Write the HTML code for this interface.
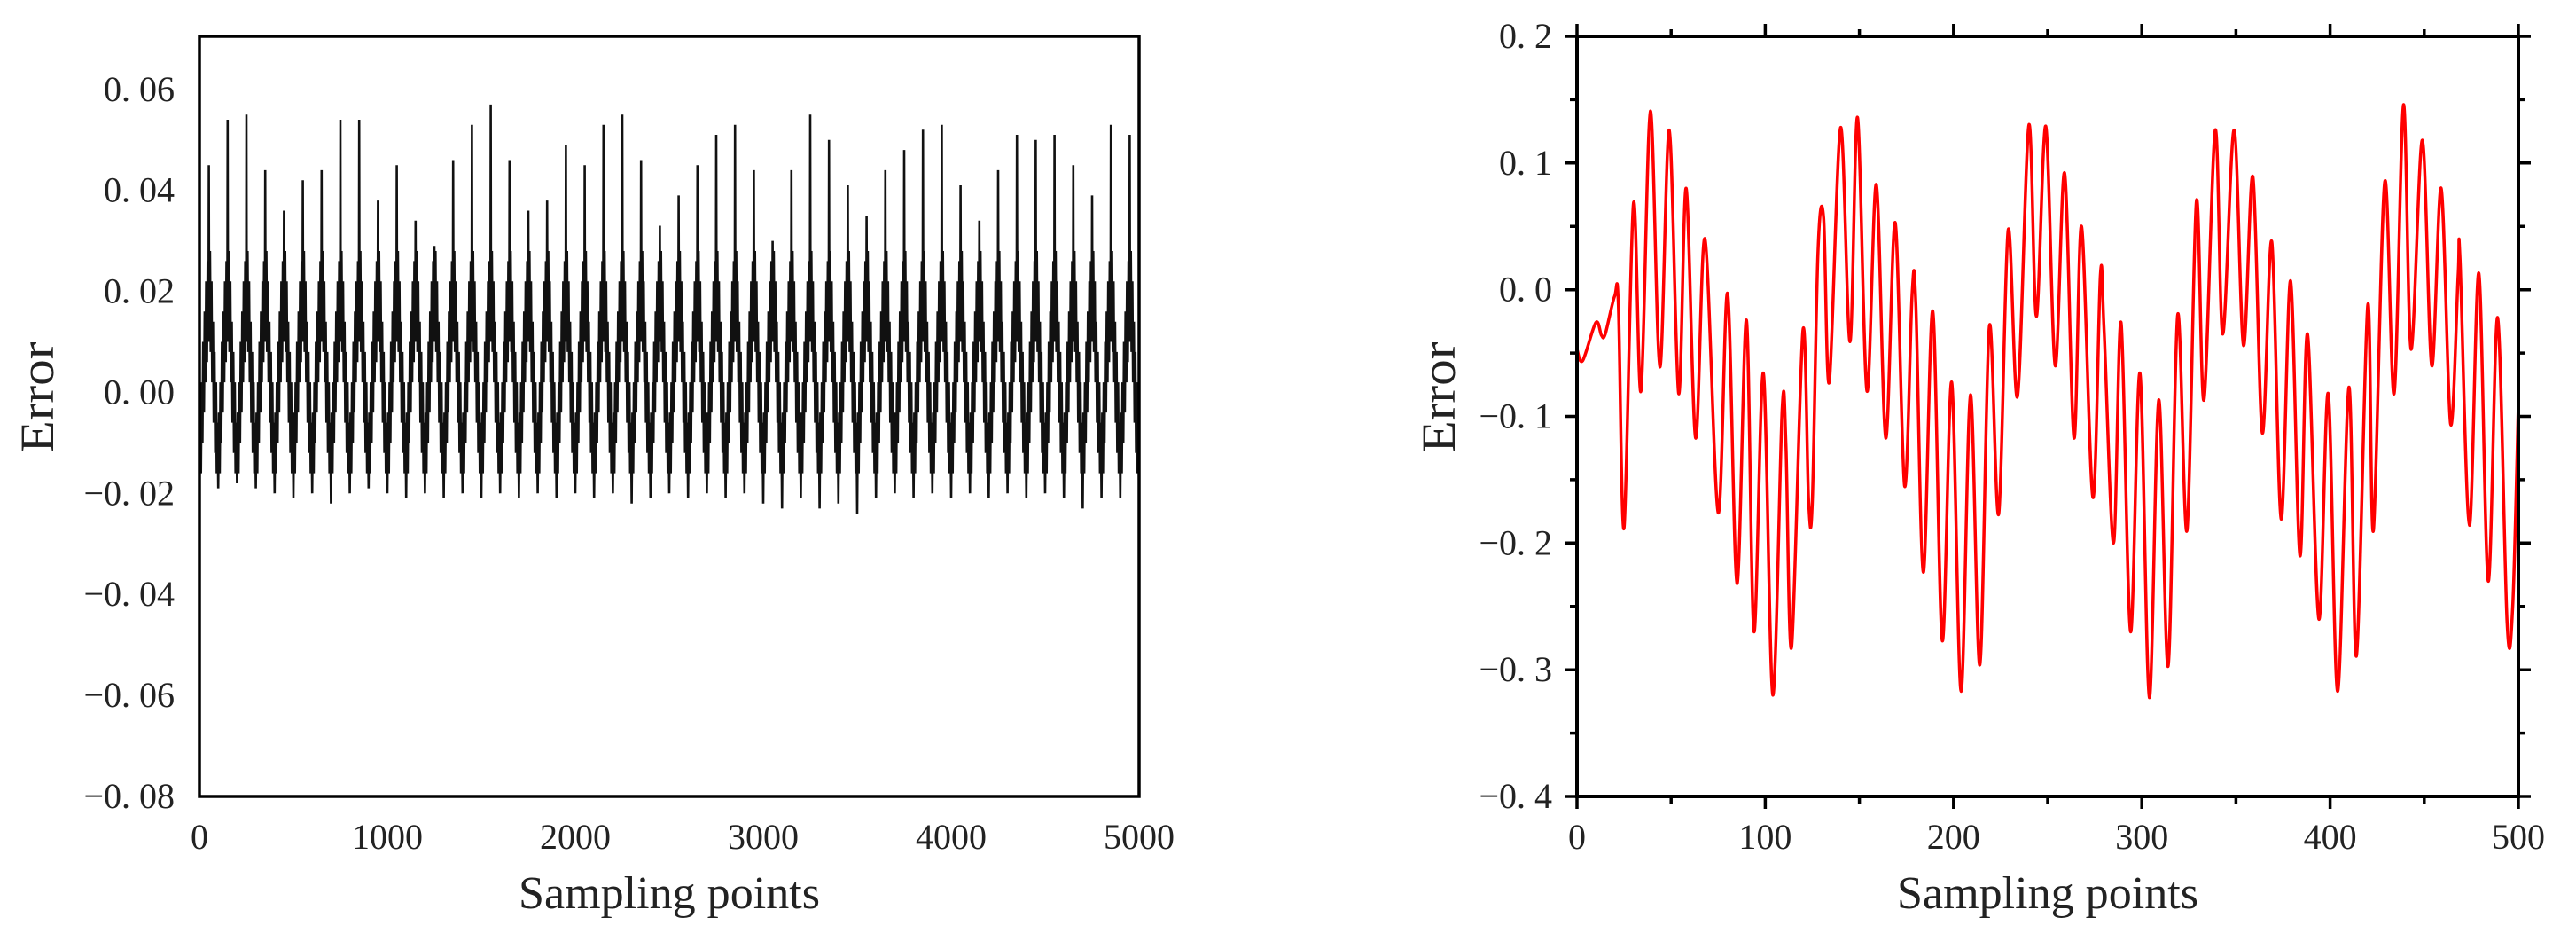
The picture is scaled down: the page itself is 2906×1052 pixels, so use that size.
<!DOCTYPE html>
<html><head><meta charset="utf-8">
<style>
html,body{margin:0;padding:0;background:#fff;}
svg{display:block;}
text{font-family:"Liberation Serif","Noto Serif CJK SC",serif;fill:#222;}
</style></head>
<body>
<svg id="fig" width="2906" height="1052" viewBox="0 0 2906 1052" xmlns="http://www.w3.org/2000/svg">
<g id="left"></g>
<g id="right"></g>
</svg>
<script>
// ---------- Left chart data (per-cycle extremes, 50 cycles of 100 samples) ----------
const leftPeaks = [0.045,0.054,0.055,0.044,0.036,0.042,0.044,0.054,0.054,0.038,0.045,0.034,0.029,0.046,0.053,0.057,0.046,0.036,0.038,0.049,0.045,0.053,0.055,0.046,0.033,0.039,0.045,0.051,0.053,0.044,0.030,0.044,0.055,0.050,0.041,0.035,0.044,0.048,0.052,0.053,0.041,0.034,0.044,0.051,0.050,0.051,0.045,0.039,0.053,0.051];
const leftMins = [-0.021,-0.019,-0.018,-0.019,-0.020,-0.021,-0.020,-0.022,-0.020,-0.019,-0.020,-0.021,-0.020,-0.021,-0.020,-0.021,-0.020,-0.021,-0.020,-0.021,-0.020,-0.021,-0.020,-0.022,-0.021,-0.020,-0.021,-0.020,-0.021,-0.020,-0.022,-0.023,-0.021,-0.023,-0.022,-0.024,-0.021,-0.020,-0.021,-0.020,-0.021,-0.020,-0.021,-0.020,-0.021,-0.020,-0.021,-0.023,-0.021,-0.021];
const cycleOffsets = [4,8,12,16,20,24,28,32,36,40,44,48,50,52,56,60,64,68,72,76,80,84,88,92,96];
const cycleValues = [-0.004,-0.016,0.002,-0.010,0.010,-0.004,0.016,0.002,0.022,0.006,0.026,0.010,null,0.012,0.028,0.008,0.022,0.002,0.014,-0.006,0.008,-0.012,0.002,-0.016,-0.006];
const leftXTicks = [0,1000,2000,3000,4000,5000];
const leftYTicks = [-0.08,-0.06,-0.04,-0.02,0.00,0.02,0.04,0.06];

// ---------- Right chart data (extrema) ----------
const rightX = [0,3,10,13,15,20,22,25,30,34,39,44,49,54,58,63,68,75,80,85,90,94,99,104,109,111,114,120,123,125,128,131,134,140,145,149,154,159,164,169,174,178,180,184,189,194,199,204,209,214,219,224,229,234,240,244,249,254,259,264,268,274,278,280,285,289,294,299,304,309,314,319,324,329,333,339,343,349,354,359,364,369,374,379,384,388,394,399,404,410,414,420,423,429,434,439,443,449,454,459,464,468,469,474,479,484,489,494,497,500];
const rightY = [-0.047,-0.056,-0.026,-0.036,-0.035,-0.005,-0.012,-0.188,0.068,-0.08,0.141,-0.061,0.126,-0.082,0.08,-0.117,0.04,-0.176,-0.003,-0.232,-0.024,-0.27,-0.066,-0.32,-0.094,-0.124,-0.282,-0.032,-0.167,-0.167,0.03,0.057,-0.073,0.128,-0.041,0.136,-0.08,0.083,-0.117,0.053,-0.155,-0.003,-0.012,-0.223,-0.017,-0.277,-0.073,-0.317,-0.083,-0.296,-0.029,-0.177,0.047,-0.084,0.13,-0.021,0.129,-0.06,0.092,-0.117,0.05,-0.164,0.012,-0.033,-0.2,-0.026,-0.27,-0.066,-0.322,-0.087,-0.297,-0.02,-0.19,0.07,-0.087,0.126,-0.035,0.126,-0.044,0.089,-0.113,0.038,-0.181,0.007,-0.21,-0.035,-0.26,-0.082,-0.317,-0.077,-0.289,-0.012,-0.19,0.085,-0.082,0.146,-0.047,0.118,-0.06,0.08,-0.106,0.011,0.024,-0.186,0.013,-0.23,-0.022,-0.263,-0.25,-0.09];
const rightXTicks = [0,100,200,300,400,500];
const rightYTicks = [-0.4,-0.3,-0.2,-0.1,0.0,0.1,0.2];

const NS = "http://www.w3.org/2000/svg";
function mk(parent, tag, attrs){const e=document.createElementNS(NS,tag);for(const k in attrs)e.setAttribute(k,attrs[k]);parent.appendChild(e);return e;}

// ---------- Left chart ----------
(function(){
  const g=document.getElementById('left');
  const L=225,R=1285,T=41,B=898;
  const x=v=>L+(v-0)/(5000-0)*(R-L);
  const y=v=>B-(v-(-0.08))/(0.0705-(-0.08))*(B-T);
  const pts=[];
  for(let i=0;i<leftPeaks.length;i++){
    const base=i*100;
    pts.push([base,leftMins[i]]);
    for(let j=0;j<cycleOffsets.length;j++){
      const v=cycleValues[j]===null?leftPeaks[i]:cycleValues[j];
      pts.push([base+cycleOffsets[j],v]);
    }
  }
  pts.push([5000,leftMins[leftMins.length-1]]);
  const d=pts.map((p,i)=>(i?'L':'M')+x(p[0]).toFixed(1)+' '+y(p[1]).toFixed(1)).join(' ');
  const line=mk(g,'path',{d:d,fill:'none',stroke:'#111','stroke-width':'2.6','stroke-linejoin':'miter'});
  
  
  const fr=mk(g,'rect',{x:L,y:T,width:R-L,height:B-T,fill:'none',stroke:'#000','stroke-width':'3.5'});
  
  
  leftYTicks.forEach(v=>{
    const t=mk(g,'text',{x:197,y:y(v)+13,'text-anchor':'end','font-size':'40'});
    t.textContent=(v<0?'−':'')+Math.abs(v).toFixed(2).replace('.','. ');
    
    
  });
  leftXTicks.forEach(v=>{
    const t=mk(g,'text',{x:x(v),y:957,'text-anchor':'middle','font-size':'40'});
    t.textContent=String(v);
    
    
  });
  const xt=mk(g,'text',{x:(L+R)/2,y:1024,'text-anchor':'middle','font-size':'52',textLength:'340',lengthAdjust:'spacingAndGlyphs'});
  xt.textContent='Sampling points';
  
  
  const yt=mk(g,'text',{x:0,y:0,'text-anchor':'middle','font-size':'54',transform:'translate(60,448) rotate(-90)',textLength:'125',lengthAdjust:'spacingAndGlyphs'});
  yt.textContent='Error';
  
  
})();

// ---------- Right chart ----------
(function(){
  const g=document.getElementById('right');
  const L=1779,R=2841,T=41,B=898;
  const x=v=>L+(v-0)/(500-0)*(R-L);
  const y=v=>B-(v-(-0.4))/(0.2-(-0.4))*(B-T);
  const P=rightX.map((vx,i)=>[x(vx),y(rightY[i])]);
  let d='M'+P[0][0].toFixed(1)+' '+P[0][1].toFixed(1);
  for(let i=0;i<P.length-1;i++){
    const p0=P[Math.max(0,i-1)],p1=P[i],p2=P[i+1],p3=P[Math.min(P.length-1,i+2)];
    const c1x=p1[0]+(p2[0]-p0[0])/6,c1y=p1[1]+(p2[1]-p0[1])/6;
    const c2x=p2[0]-(p3[0]-p1[0])/6,c2y=p2[1]-(p3[1]-p1[1])/6;
    d+=' C'+c1x.toFixed(1)+' '+c1y.toFixed(1)+' '+c2x.toFixed(1)+' '+c2y.toFixed(1)+' '+p2[0].toFixed(1)+' '+p2[1].toFixed(1);
  }
  const line=mk(g,'path',{d:d,fill:'none',stroke:'#f00','stroke-width':'3.5'});
  
  
  const fr=mk(g,'rect',{x:L,y:T,width:R-L,height:B-T,fill:'none',stroke:'#000','stroke-width':'4'});
  
  
  let td='';
  for(let v=0;v<=500;v+=50){
    const len=(v%100===0)?14:8, px=x(v).toFixed(1);
    td+='M'+px+' '+B+' v'+len+' M'+px+' '+T+' v-'+len+' ';
  }
  for(let k=0;k<=12;k++){
    const v=-0.4+k*0.05, len=(k%2===0)?14:8, py=y(v).toFixed(1);
    td+='M'+L+' '+py+' h-'+len+' M'+R+' '+py+' h'+len+' ';
  }
  const ticks=mk(g,'path',{d:td,stroke:'#000','stroke-width':'3.5',fill:'none'});
  
  
  rightYTicks.forEach(v=>{
    const t=mk(g,'text',{x:1751,y:y(v)+13,'text-anchor':'end','font-size':'40'});
    t.textContent=(v<0?'−':'')+Math.abs(v).toFixed(1).replace('.','. ');
    
    
  });
  rightXTicks.forEach(v=>{
    const t=mk(g,'text',{x:x(v),y:957,'text-anchor':'middle','font-size':'40'});
    t.textContent=String(v);
    
    
  });
  const xt=mk(g,'text',{x:(L+R)/2,y:1024,'text-anchor':'middle','font-size':'52',textLength:'340',lengthAdjust:'spacingAndGlyphs'});
  xt.textContent='Sampling points';
  
  
  const yt=mk(g,'text',{x:0,y:0,'text-anchor':'middle','font-size':'54',transform:'translate(1641,448) rotate(-90)',textLength:'125',lengthAdjust:'spacingAndGlyphs'});
  yt.textContent='Error';
  
  
})();
</script>
</body></html>
